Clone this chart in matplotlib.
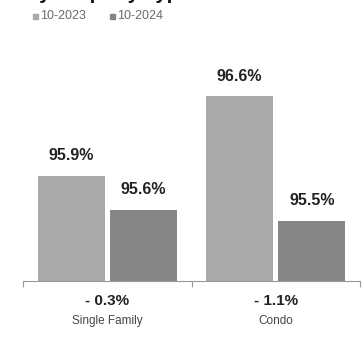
import numpy as np
import matplotlib.pyplot as plt

plt.rcParams['font.family'] = ['Liberation Sans', 'DejaVu Sans']

categories = ["Single Family", "Condo"]
series_names = ["10-2023", "10-2024"]
values_2023 = [95.9, 96.6]
values_2024 = [95.6, 95.5]
change_labels = ["- 0.3%", "- 1.1%"]

colors = ["#a9a9a9", "#868686"]

fig = plt.figure(figsize=(3.62, 3.39), dpi=100)
ax = fig.add_axes([23 / 362, 58 / 339, 337 / 362, 221 / 339])

x = np.arange(len(categories))
width = 0.398
offset = 0.214
bars1 = ax.bar(x - offset, values_2023, width, color=colors[0])
bars2 = ax.bar(x + offset, values_2024, width, color=colors[1])

ax.set_ylim(94.97, 96.92)
ax.set_xlim(-0.5, 1.5)

# value labels above bars
for bars, vals in [(bars1, values_2023), (bars2, values_2024)]:
    for b, v in zip(bars, vals):
        ax.annotate(f"{v:.1f}%", (b.get_x() + b.get_width() / 2, v),
                    xytext=(0, 9), textcoords="offset points",
                    ha="center", va="bottom", fontsize=11.5, fontweight="bold",
                    color="#222222")

# only the bottom line stays
for s in ["top", "right", "left"]:
    ax.spines[s].set_visible(False)
ax.spines["bottom"].set_color("#999999")
ax.set_yticks([])
ax.set_xticks([-0.5, 0.5, 1.5])
ax.set_xticklabels([])
ax.tick_params(axis="x", length=4, color="#999999", direction="out")

for i, cat in enumerate(categories):
    ax.text(i, -0.09, change_labels[i], transform=ax.get_xaxis_transform(),
            ha="center", va="center", fontsize=11, fontweight="bold", color="#222222")
    ax.text(i, -0.18, cat, transform=ax.get_xaxis_transform(),
            ha="center", va="center", fontsize=8.5, color="#444444")

# title, mostly cut off at the top edge like in the source
fig.text(27 / 362, 1 + 1.5 / 339, "by Property Type", fontsize=14.5,
         fontweight="bold", color="#111111", ha="left", va="baseline")

# legend
for lx, name, c in [(33, series_names[0], colors[0]), (110, series_names[1], colors[1])]:
    fig.patches.append(plt.Rectangle((lx / 362, 1 - 19 / 339), 5 / 362, 5 / 339,
                                     transform=fig.transFigure, color=c))
    fig.text((lx + 7) / 362, 1 - 16 / 339, name, fontsize=9, color="#6a6a6a",
             ha="left", va="center")

fig.savefig("out.png", dpi=100, facecolor="white")
